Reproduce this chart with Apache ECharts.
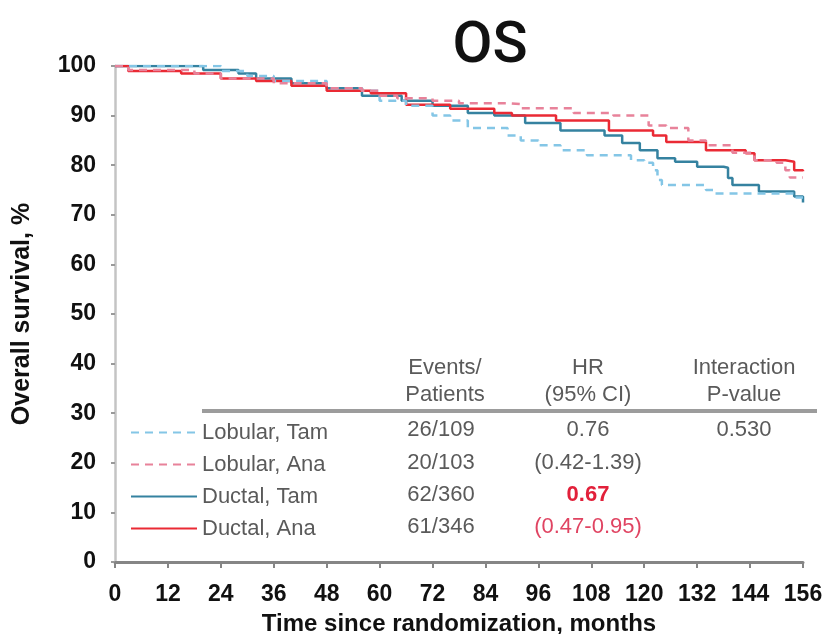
<!DOCTYPE html>
<html>
<head>
<meta charset="utf-8">
<script src="https://cdn.jsdelivr.net/npm/echarts@6/dist/echarts.min.js"></script>
<style>
  html, body { margin: 0; padding: 0; background: #fff; }
  #chart { width: 826px; height: 634px; }
</style>
</head>
<body>
<div id="chart"></div>
<script>
// Kaplan-Meier overall survival, [month, % surviving] at each step
const lobularTam = [[0,100],[22,100],[24,99],[30,98],[36,97],[48,95.5],[56,95],[60,93],[66,92],[72,90],[76,89],[80,87.5],[89,86],[92,85],[96,84],[101,83],[107,82],[117,81],[120,80.5],[122,79],[123,77],[124,76],[134,75],[136,74.3],[154,73.5],[156,73.5]];
const lobularAna = [[0,100],[3,99.2],[15,99.2],[18,98.5],[24,97.5],[36,96.5],[48,95.5],[56,95],[60,94],[64,93.5],[72,93],[78,92.5],[89,92.3],[92,91.5],[104,90.5],[113,90],[120,90],[121,88],[125,87.5],[130,85],[134,84],[140,82.5],[145,81],[150,80.5],[152,79],[153,77.5],[156,77.5]];
const ductalTam = [[0,100],[17,100],[20,99.2],[28,98.5],[32,97.5],[40,96.5],[48,95.5],[56,94],[65,93],[72,92],[80,90.5],[86,90],[93,88.5],[101,87],[111,86],[115,84.5],[119,83],[123,81.4],[127,80.7],[132,79.7],[138,79.5],[139,77.4],[140,76],[146,74.7],[154,73.7],[156,72.5]];
const ductalAna = [[0,100],[3,99],[15,98.5],[24,97.5],[32,97],[40,96],[48,95],[58,94.5],[66,92.2],[76,91.4],[86,90.5],[90,90],[100,89],[112,87],[122,86],[125,84.7],[134,83],[143,82.4],[145,81],[152,80.7],[154,79],[156,78.8]];

const seriesNames = ['Lobular, Tam', 'Lobular, Ana', 'Ductal, Tam', 'Ductal, Ana'];
const eventsPatients = ['26/109', '20/103', '62/360', '61/346'];
const hrLines = ['0.76', '(0.42-1.39)', '0.67', '(0.47-0.95)'];
const interactionP = '0.530';
const xTicks = [0, 12, 24, 36, 48, 60, 72, 84, 96, 108, 120, 132, 144, 156];

const colors = ['#84c6e6', '#e8829a', '#3582a0', '#ea2a34'];
const rowY = [430, 463, 495, 527];

const chart = echarts.init(document.getElementById('chart'), null, { renderer: 'canvas' });

function km(name, data, color, dashed, z) {
  return {
    name: name,
    type: 'line',
    step: 'end',
    data: data,
    symbol: 'none',
    z: z,
    lineStyle: { color: color, width: 2.5, type: dashed ? [8, 6] : 'solid' },
    itemStyle: { color: color }
  };
}

const textGray = '#5a5a5a';
const graphics = [
  {
    type: 'line',
    shape: { x1: 202, y1: 411, x2: 817, y2: 411 },
    style: { stroke: '#9c9c9c', lineWidth: 4 }
  }
];
function addText(txt, x, y, extra) {
  graphics.push({
    type: 'text',
    style: Object.assign({
      text: txt, x: x, y: y, align: 'center', verticalAlign: 'middle',
      fill: textGray, font: '22px "Liberation Sans", Arial, sans-serif'
    }, extra || {})
  });
}
addText('Events/', 445, 368);
addText('Patients', 445, 395);
addText('HR', 588, 368);
addText('(95% CI)', 588, 395);
addText('Interaction', 744, 368);
addText('P-value', 744, 395);
eventsPatients.forEach((t, i) => addText(t, 441, rowY[i]));
hrLines.forEach((t, i) => {
  let extra = null;
  if (i === 2) extra = { fill: '#e2203a', font: 'bold 22px "Liberation Sans", Arial, sans-serif' };
  if (i === 3) extra = { fill: '#e04462' };
  addText(t, 588, rowY[i], extra);
});
addText(interactionP, 744, rowY[0]);

const option = {
  backgroundColor: '#ffffff',
  animation: false,
  title: {
    text: 'OS',
    left: 485,
    top: 13,
    textAlign: 'center',
    textStyle: { fontFamily: 'Roboto, sans-serif', fontSize: 58, fontWeight: 500, color: '#111' }
  },
  grid: { left: 115, right: 23, top: 66, bottom: 72, containLabel: false, outerBoundsMode: 'none' },
  legend: {
    orient: 'vertical',
    left: 125,
    top: 416,
    itemWidth: 66,
    itemHeight: 14,
    itemGap: 9,
    data: seriesNames,
    itemStyle: { opacity: 0 },
    textStyle: { fontFamily: '"Liberation Sans", Arial, sans-serif', fontSize: 22, color: textGray, lineHeight: 23 }
  },
  xAxis: {
    type: 'value',
    min: 0,
    max: 156,
    interval: 12,
    name: 'Time since randomization, months',
    nameLocation: 'middle',
    nameGap: 50,
    nameTextStyle: { fontFamily: '"Liberation Sans", Arial, sans-serif', fontSize: 24, fontWeight: 'bold', color: '#111' },
    axisLine: { show: true, lineStyle: { color: '#858585', width: 3 } },
    axisTick: { show: true, length: 6, lineStyle: { color: '#858585', width: 2 } },
    axisLabel: {
      margin: 21,
      fontFamily: '"Liberation Sans", Arial, sans-serif',
      fontSize: 23, fontWeight: 'bold', color: '#111',
      formatter: v => (xTicks.indexOf(v) >= 0 ? String(v) : '')
    },
    splitLine: { show: false }
  },
  yAxis: {
    type: 'value',
    min: 0,
    max: 100,
    interval: 10,
    name: 'Overall survival, %',
    nameLocation: 'middle',
    nameRotate: 90,
    nameGap: 80,
    nameTextStyle: { fontFamily: '"Liberation Sans", Arial, sans-serif', fontSize: 25, fontWeight: 'bold', color: '#111' },
    axisLine: { show: true, lineStyle: { color: '#c4c4c4', width: 2.5 } },
    axisTick: { show: true, length: 4, lineStyle: { color: '#9a9a9a', width: 2 } },
    axisLabel: {
      margin: 19,
      fontFamily: '"Liberation Sans", Arial, sans-serif',
      fontSize: 23, fontWeight: 'bold', color: '#111'
    },
    splitLine: { show: false }
  },
  graphic: graphics,
  series: [
    km(seriesNames[2], ductalTam, colors[2], false, 2),
    km(seriesNames[3], ductalAna, colors[3], false, 3),
    km(seriesNames[0], lobularTam, colors[0], true, 4),
    km(seriesNames[1], lobularAna, colors[1], true, 5)
  ]
};
chart.setOption(option);
</script>
</body>
</html>
